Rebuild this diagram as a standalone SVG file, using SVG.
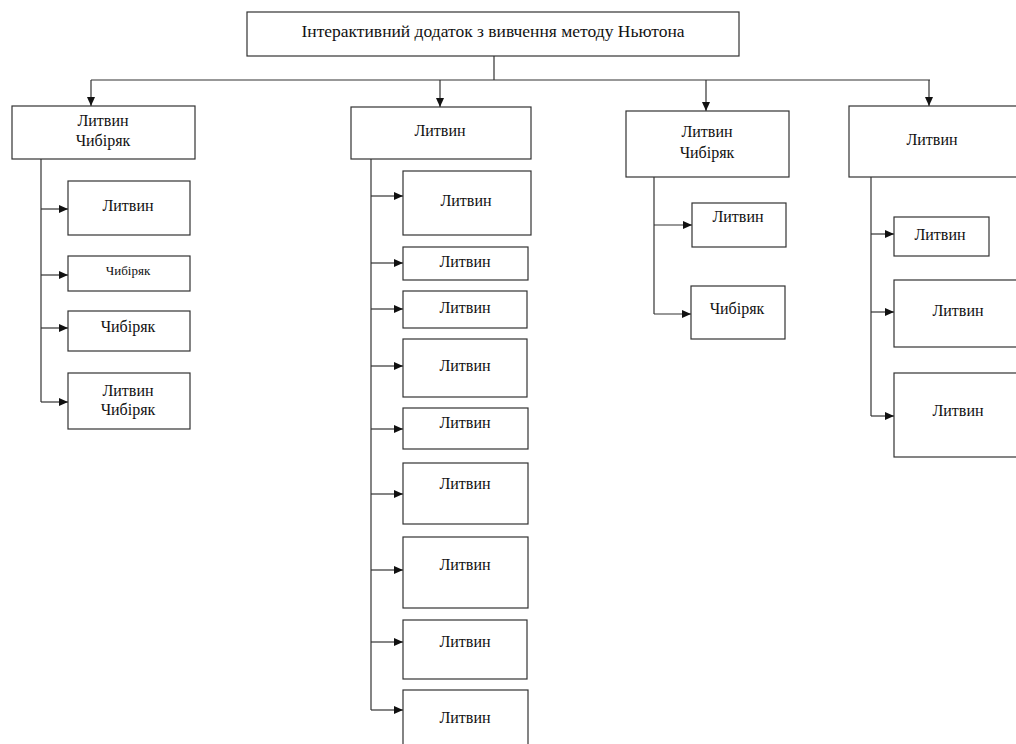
<svg xmlns="http://www.w3.org/2000/svg" width="1016" height="744" viewBox="0 0 1016 744">
<style>
.box{fill:#fff;stroke:#333;stroke-width:1.2}
.t{font-family:"Liberation Serif","Times New Roman",serif;font-size:16px;fill:#111;text-anchor:middle;dominant-baseline:middle}
.s{font-size:13px}
.c{fill:none;stroke:#333;stroke-width:1.2}
</style>
<defs>
<marker id="ah" markerUnits="userSpaceOnUse" markerWidth="9" markerHeight="8" refX="9" refY="4" orient="auto">
<path d="M0,0 L9,4 L0,8 z" fill="#111"/>
</marker>
</defs>
<rect width="1016" height="744" fill="#fff"/>
<g id="connectors">
<path class="c" d="M494,56 V80 M91,80 H930"/>
<path class="c" d="M91,80 V106" marker-end="url(#ah)"/>
<path class="c" d="M440,80 V107" marker-end="url(#ah)"/>
<path class="c" d="M706,80 V111" marker-end="url(#ah)"/>
<path class="c" d="M929,80 V106" marker-end="url(#ah)"/>
<path class="c" d="M41,159 V402"/>
<path class="c" d="M41,209 H68" marker-end="url(#ah)"/>
<path class="c" d="M41,275 H68" marker-end="url(#ah)"/>
<path class="c" d="M41,328 H68" marker-end="url(#ah)"/>
<path class="c" d="M41,402 H68" marker-end="url(#ah)"/>
<path class="c" d="M371,159 V710"/>
<path class="c" d="M371,196 H403" marker-end="url(#ah)"/>
<path class="c" d="M371,263 H403" marker-end="url(#ah)"/>
<path class="c" d="M371,309 H403" marker-end="url(#ah)"/>
<path class="c" d="M371,366 H403" marker-end="url(#ah)"/>
<path class="c" d="M371,429 H403" marker-end="url(#ah)"/>
<path class="c" d="M371,494 H403" marker-end="url(#ah)"/>
<path class="c" d="M371,570 H403" marker-end="url(#ah)"/>
<path class="c" d="M371,642 H403" marker-end="url(#ah)"/>
<path class="c" d="M371,710 H403" marker-end="url(#ah)"/>
<path class="c" d="M654,177 V314"/>
<path class="c" d="M654,225 H692" marker-end="url(#ah)"/>
<path class="c" d="M654,314 H691" marker-end="url(#ah)"/>
<path class="c" d="M871,177 V416"/>
<path class="c" d="M871,234 H894" marker-end="url(#ah)"/>
<path class="c" d="M871,312 H894" marker-end="url(#ah)"/>
<path class="c" d="M871,416 H894" marker-end="url(#ah)"/>
</g>
<g id="root"><rect class="box" x="247" y="12" width="492" height="44"/><text class="t" x="493" y="33" style="font-size:17.5px">Інтерактивний додаток з вивчення методу Ньютона</text></g>
<g id="a"><rect class="box" x="12" y="106" width="183" height="53"/><text class="t" x="103" y="122">Литвин</text><text class="t" x="103" y="142">Чибіряк</text></g>
<g id="a1"><rect class="box" x="68" y="181" width="122" height="54"/><text class="t" x="128" y="207">Литвин</text></g>
<g id="a2"><rect class="box" x="68" y="256" width="122" height="35"/><text class="t s" x="128" y="272">Чибіряк</text></g>
<g id="a3"><rect class="box" x="68" y="311" width="122" height="40"/><text class="t" x="128" y="328">Чибіряк</text></g>
<g id="a4"><rect class="box" x="68" y="373" width="122" height="56"/><text class="t" x="128" y="392">Литвин</text><text class="t" x="128" y="411">Чибіряк</text></g>
<g id="b"><rect class="box" x="351" y="107" width="180" height="52"/><text class="t" x="440" y="132">Литвин</text></g>
<g id="b1"><rect class="box" x="403" y="171" width="128" height="64"/><text class="t" x="466" y="202">Литвин</text></g>
<g id="b2"><rect class="box" x="403" y="247" width="125" height="33"/><text class="t" x="465" y="263">Литвин</text></g>
<g id="b3"><rect class="box" x="403" y="291" width="124" height="37"/><text class="t" x="465" y="309">Литвин</text></g>
<g id="b4"><rect class="box" x="403" y="339" width="124" height="58"/><text class="t" x="465" y="367">Литвин</text></g>
<g id="b5"><rect class="box" x="403" y="408" width="125" height="41"/><text class="t" x="465" y="424">Литвин</text></g>
<g id="b6"><rect class="box" x="403" y="463" width="125" height="61"/><text class="t" x="465" y="485">Литвин</text></g>
<g id="b7"><rect class="box" x="403" y="537" width="125" height="71"/><text class="t" x="465" y="566">Литвин</text></g>
<g id="b8"><rect class="box" x="403" y="620" width="124" height="59"/><text class="t" x="465" y="643">Литвин</text></g>
<g id="b9"><rect class="box" x="403" y="690" width="125" height="70"/><text class="t" x="465" y="719">Литвин</text></g>
<g id="c"><rect class="box" x="626" y="111" width="163" height="66"/><text class="t" x="707" y="133">Литвин</text><text class="t" x="707" y="154">Чибіряк</text></g>
<g id="c1"><rect class="box" x="692" y="203" width="94" height="44"/><text class="t" x="738" y="218">Литвин</text></g>
<g id="c2"><rect class="box" x="691" y="286" width="94" height="53"/><text class="t" x="737" y="310">Чибіряк</text></g>
<g id="d"><rect class="box" x="849" y="106" width="180" height="71"/><text class="t" x="932" y="141">Литвин</text></g>
<g id="d1"><rect class="box" x="894" y="217" width="95" height="39"/><text class="t" x="940" y="236">Литвин</text></g>
<g id="d2"><rect class="box" x="894" y="280" width="135" height="67"/><text class="t" x="958" y="312">Литвин</text></g>
<g id="d3"><rect class="box" x="894" y="373" width="135" height="84"/><text class="t" x="958" y="412">Литвин</text></g>
</svg>
